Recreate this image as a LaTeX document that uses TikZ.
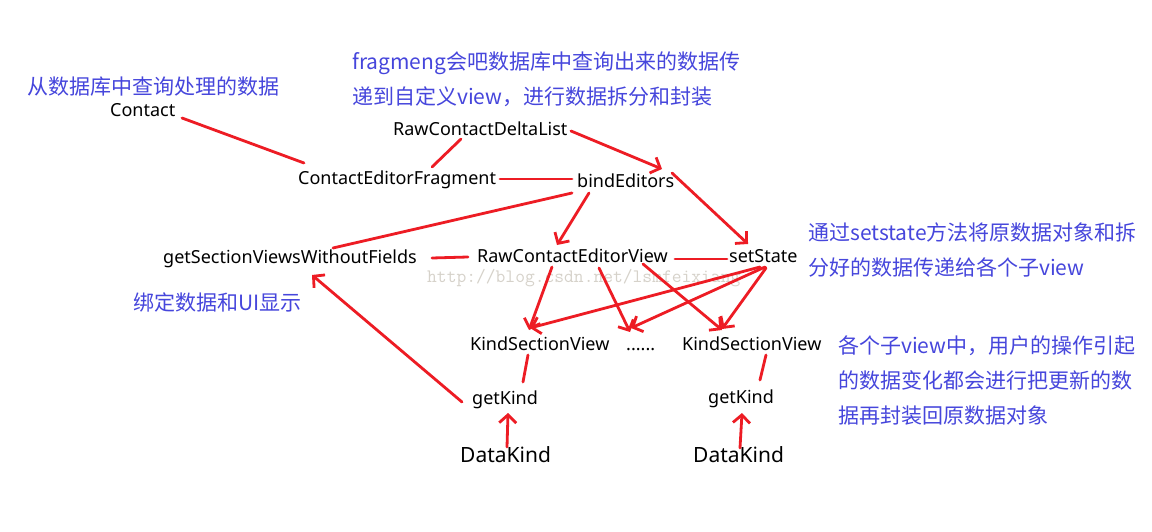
\documentclass[tikz,border=0pt]{standalone}
\usepackage{fontspec}
\setmainfont{Noto Sans}
\newfontfamily\cjk{Noto Sans CJK SC}
\usetikzlibrary{arrows.meta}
\definecolor{pen}{RGB}{237,28,36}
\definecolor{notec}{RGB}{70,70,220}
\definecolor{wm}{RGB}{214,210,202}
\begin{document}
\begin{tikzpicture}[x=1pt,y=-1pt,
  lbl/.style={anchor=base west,inner sep=0pt,font=\fontsize{18}{22}\selectfont},
  big/.style={anchor=base west,inner sep=0pt,font=\fontsize{21}{25}\selectfont},
  note/.style={anchor=base west,inner sep=0pt,align=left,text=notec,font=\cjk\fontsize{21}{35}\selectfont},
  link/.style={draw=pen,line width=2.8pt,line cap=round,line join=round},
  arr/.style={link,-{Straight Barb[length=8pt,width=17pt]}},
]
\fill[white] (0,0) rectangle (1152,532);
\useasboundingbox (0,0) rectangle (1152,532);

% watermark
\node[anchor=base west,inner sep=0pt,text=wm,font=\ttfamily\fontsize{19}{22}\selectfont] (wmark) at (427,282) {http://blog.csdn.net/lsmfeixiang};

% notes (base anchor = baseline of the last line)
\node[note] (n1) at (27,95) {从数据库中查询处理的数据};
\node[note] (n2) at (352,105) {fragmeng会吧数据库中查询出来的数据传\\递到自定义view，进行数据拆分和封装};
\node[note] (n3) at (808,275) {通过setstate方法将原数据对象和拆\\分好的数据传递给各个子view};
\node[note] (n4) at (133,310) {绑定数据和UI显示};
\node[note] (n5) at (838,423) {各个子view中，用户的操作引起\\的数据变化都会进行把更新的数\\据再封装回原数据对象};

% labels
\node[lbl] (contact) at (110,117) {Contact};
\node[lbl] (rcdl) at (393,136) {RawContactDeltaList};
\node[lbl] (cef) at (298,185) {ContactEditorFragment};
\node[lbl] (bind) at (577,188) {bindEditors};
\node[lbl] (gsv) at (163,263) {getSectionViewsWithoutFields};
\node[lbl] (rcev) at (477,262) {RawContactEditorView};
\node[lbl] (setst) at (729,262) {setState};
\node[lbl] (ksv1) at (470,350) {KindSectionView};
\node[lbl] (dots) at (626,350) {......};
\node[lbl] (ksv2) at (682,350) {KindSectionView};
\node[lbl] (gk1) at (472,404) {getKind};
\node[lbl] (gk2) at (708,403) {getKind};
\node[big] (dk1) at (460,462) {DataKind};
\node[big] (dk2) at (693,462) {DataKind};

% connectors
\draw[link] ([shift={(72,1)}]contact.base west) -- ([shift={(6,-22)}]cef.base west);
\draw[link] ([shift={(68,3)}]rcdl.base west) -- ([shift={(134,-18)}]cef.base west);
\draw[arr] ([shift={(178,-5)}]rcdl.base west) -- ([shift={(85,-19)}]bind.base west);
\draw[link] ([shift={(202,-6)}]cef.base west) -- ([shift={(-5,-9)}]bind.base west);
\draw[link] ([shift={(-5,5)}]bind.base west) -- ([shift={(170,-15)}]gsv.base west);
\draw[arr] ([shift={(12,5)}]bind.base west) -- ([shift={(80,-17)}]rcev.base west);
\draw[arr] ([shift={(95,-15)}]bind.base west) -- ([shift={(19,-18)}]setst.base west);
\draw[link] ([shift={(269,-5)}]gsv.base west) -- ([shift={(-9,-5)}]rcev.base west);
\draw[link] ([shift={(198,-3)}]rcev.base west) -- ([shift={(-2,-3)}]setst.base west);
\draw[arr] ([shift={(75,5)}]rcev.base west) -- ([shift={(59,-20)}]ksv1.base west);
\draw[arr] ([shift={(122,6)}]rcev.base west) -- ([shift={(4,-18)}]dots.base west);
\draw[arr] ([shift={(166,2)}]rcev.base west) -- ([shift={(40,-20)}]ksv2.base west);
\draw[arr] ([shift={(31,5)}]setst.base west) -- ([shift={(60,-22)}]ksv1.base west);
\draw[arr] ([shift={(36,5)}]setst.base west) -- ([shift={(5,-22)}]dots.base west);
\draw[arr] ([shift={(37,6)}]setst.base west) -- ([shift={(40,-21)}]ksv2.base west);
\draw[link] ([shift={(58,5)}]ksv1.base west) -- ([shift={(51,-22)}]gk1.base west);
\draw[link] ([shift={(84,5)}]ksv2.base west) -- ([shift={(52,-23)}]gk2.base west);
\draw[arr] ([shift={(-10,-2)}]gk1.base west) -- ([shift={(149,12)}]gsv.base west);
\draw[arr] ([shift={(47,-15)}]dk1.base west) -- ([shift={(36,9)}]gk1.base west);
\draw[arr] ([shift={(47,-14)}]dk2.base west) -- ([shift={(34,10)}]gk2.base west);
\end{tikzpicture}
\end{document}
